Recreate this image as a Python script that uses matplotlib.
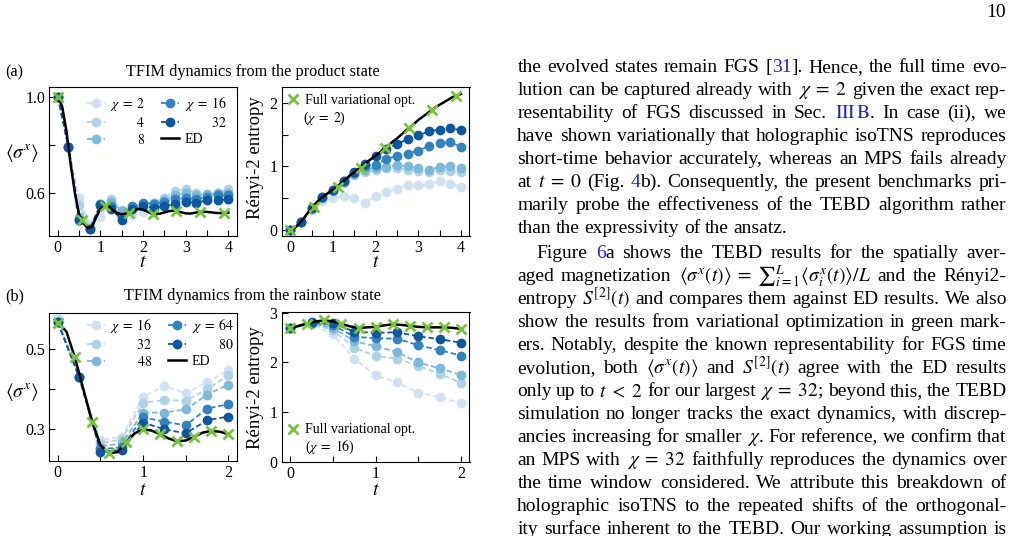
import matplotlib
matplotlib.use("Agg")
import matplotlib.pyplot as plt
import numpy as np

plt.rcParams["font.family"] = ["Liberation Serif", "DejaVu Serif"]
plt.rcParams["mathtext.fontset"] = "stix"

W, H = 1015, 536
GREEN = "#78c23c"
LINK = "#2020e0"

# ---------------- (a) TFIM from the product state ----------------
t_a = np.arange(0, 4.001, 0.25)
chi_a = [2, 4, 8, 16, 32]
sx_a_2 = [1.0, 0.79, 0.58, 0.47, 0.50, 0.57, 0.53, 0.51, 0.52, 0.53, 0.55, 0.56, 0.57, 0.575, 0.57, 0.57, 0.57]
sx_a_4 = [1.0, 0.79, 0.55, 0.46, 0.55, 0.575, 0.53, 0.535, 0.55, 0.56, 0.58, 0.61, 0.615, 0.60, 0.59, 0.60, 0.615]
sx_a_8 = [1.0, 0.79, 0.50, 0.45, 0.555, 0.565, 0.525, 0.54, 0.555, 0.56, 0.57, 0.59, 0.60, 0.59, 0.595, 0.60, 0.60]
sx_a_16 = [1.0, 0.79, 0.49, 0.45, 0.555, 0.545, 0.50, 0.545, 0.56, 0.555, 0.565, 0.575, 0.58, 0.575, 0.585, 0.59, 0.59]
sx_a_32 = [1.0, 0.79, 0.487, 0.45, 0.55, 0.535, 0.49, 0.535, 0.545, 0.54, 0.545, 0.555, 0.565, 0.56, 0.57, 0.57, 0.575]

s2_a_2 = [0, 0.12, 0.32, 0.46, 0.50, 0.53, 0.50, 0.43, 0.54, 0.60, 0.65, 0.71, 0.70, 0.72, 0.77, 0.73, 0.68]
s2_a_4 = [0, 0.12, 0.33, 0.50, 0.61, 0.74, 0.86, 0.91, 0.94, 0.97, 0.98, 0.95, 0.93, 0.92, 0.94, 0.93, 0.92]
s2_a_8 = [0, 0.12, 0.33, 0.51, 0.62, 0.75, 0.88, 0.95, 0.98, 0.99, 1.02, 1.00, 0.97, 0.95, 0.99, 1.00, 0.97]
s2_a_16 = [0, 0.12, 0.34, 0.52, 0.63, 0.77, 0.90, 1.01, 1.02, 1.12, 1.16, 1.20, 1.25, 1.32, 1.37, 1.38, 1.31]
s2_a_32 = [0, 0.12, 0.34, 0.52, 0.63, 0.77, 0.91, 1.04, 1.16, 1.27, 1.35, 1.43, 1.49, 1.55, 1.58, 1.60, 1.57]

t_ed_a = np.arange(0, 4.001, 0.1)
sx_ed_a = [1.0, 0.96, 0.86, 0.72, 0.60, 0.51, 0.475, 0.455, 0.46, 0.50, 0.535,
           0.548, 0.542, 0.528, 0.516, 0.512, 0.515, 0.522, 0.53, 0.534, 0.531,
           0.523, 0.515, 0.512, 0.515, 0.52, 0.525, 0.527, 0.525, 0.52, 0.516,
           0.515, 0.518, 0.521, 0.523, 0.522, 0.52, 0.518, 0.517, 0.518, 0.519]
s2_ed_a = [0, 0.03, 0.09, 0.17, 0.26, 0.34, 0.42, 0.49, 0.54, 0.59, 0.635,
           0.68, 0.74, 0.80, 0.86, 0.91, 0.96, 1.02, 1.07, 1.12, 1.17,
           1.22, 1.28, 1.33, 1.39, 1.44, 1.50, 1.56, 1.61, 1.67, 1.73,
           1.78, 1.83, 1.88, 1.93, 1.97, 2.01, 2.05, 2.09, 2.12, 2.14]

t_var_a = [0, 0.555, 1.11, 1.665, 2.22, 2.775, 3.33, 3.885]
sx_var_a = [1.0, 0.49, 0.547, 0.518, 0.514, 0.525, 0.52, 0.518]
s2_var_a = [0, 0.36, 0.67, 0.97, 1.29, 1.605, 1.895, 2.116]

# ---------------- (b) TFIM from the rainbow state ----------------
t_b = np.arange(0, 2.001, 0.25)
chi_b = [16, 32, 48, 64, 80]
sx_b_16 = [0.578, 0.431, 0.273, 0.282, 0.381, 0.409, 0.390, 0.419, 0.448]
sx_b_32 = [0.572, 0.431, 0.265, 0.275, 0.367, 0.373, 0.372, 0.400, 0.436]
sx_b_48 = [0.568, 0.431, 0.257, 0.265, 0.342, 0.342, 0.350, 0.387, 0.412]
sx_b_64 = [0.568, 0.431, 0.250, 0.255, 0.330, 0.319, 0.310, 0.352, 0.363]
sx_b_80 = [0.568, 0.431, 0.244, 0.248, 0.317, 0.300, 0.290, 0.323, 0.332]

s2_b_16 = [2.70, 2.77, 2.57, 2.08, 1.74, 1.60, 1.39, 1.30, 1.18]
s2_b_32 = [2.70, 2.78, 2.65, 2.30, 2.13, 2.08, 1.93, 1.77, 1.59]
s2_b_48 = [2.70, 2.79, 2.70, 2.43, 2.33, 2.21, 2.00, 1.88, 1.75]
s2_b_64 = [2.70, 2.80, 2.76, 2.52, 2.49, 2.48, 2.35, 2.25, 2.14]
s2_b_80 = [2.70, 2.81, 2.80, 2.62, 2.60, 2.61, 2.53, 2.47, 2.40]

t_ed_b = np.arange(0, 2.001, 0.1)
sx_ed_b = [0.567, 0.545, 0.48, 0.40, 0.32, 0.26, 0.24, 0.243, 0.2675, 0.29, 0.30,
           0.297, 0.2875, 0.277, 0.27, 0.272, 0.2815, 0.292, 0.296, 0.294, 0.2875]
s2_ed_b = [2.69, 2.74, 2.79, 2.83, 2.85, 2.83, 2.78, 2.73, 2.70, 2.71, 2.72,
           2.75, 2.77, 2.76, 2.74, 2.72, 2.71, 2.71, 2.71, 2.70, 2.68]

t_var_b = np.arange(0, 2.001, 0.2)
sx_var_b = [0.567, 0.4815, 0.319, 0.24, 0.2675, 0.30, 0.2875, 0.27, 0.2815, 0.296, 0.2875]
s2_var_b = [2.69, 2.785, 2.85, 2.78, 2.70, 2.71, 2.77, 2.74, 2.71, 2.71, 2.67]

# ---------------- body text of the page ----------------
# |...| marks a (blue) cross-reference
para1 = [
    "the evolved states remain FGS [|31|]. Hence, the full time evo-",
    r"lution can be captured already with $\chi\;=\;2$ given the exact rep-",
    r"resentability of FGS discussed in Sec. |$\mathrm{III}\,\mathrm{B}$|. In case (ii), we",
    "have shown variationally that holographic isoTNS reproduces",
    "short-time behavior accurately, whereas an MPS fails already",
    r"at $t\;=\;0$ (Fig. |4|b). Consequently, the present benchmarks pri-",
    "marily probe the effectiveness of the TEBD algorithm rather",
    "than the expressivity of the ansatz.",
]
para2 = [
    "Figure |6|a shows the TEBD results for the spatially aver-",
    r"aged magnetization $\langle\sigma^x(t)\rangle\;=\;∑_{i=1}^{L}\langle\sigma_i^x(t)\rangle/L$ and the Rényi2-",
    r"entropy $S^{[2]}(t)$ and compares them against ED results. We also",
    "show the results from variational optimization in green mark-",
    "ers. Notably, despite the known representability for FGS time",
    r"evolution, both $\langle\sigma^x(t)\rangle$ and $S^{[2]}(t)$ agree with the ED results",
    r"only up to $t\;<\;2$ for our largest $\chi\;=\;32$; beyond this, the TEBD",
    "simulation no longer tracks the exact dynamics, with discrep-",
    r"ancies increasing for smaller $\chi$. For reference, we confirm that",
    r"an MPS with $\chi\;=\;32$ faithfully reproduces the dynamics over",
    "the time window considered. We attribute this breakdown of",
    "holographic isoTNS to the repeated shifts of the orthogonal-",
    "ity surface inherent to the TEBD. Our working assumption is",
]

fig = plt.figure(figsize=(W / 100, H / 100), dpi=100)
r = fig.canvas.get_renderer()


def box(x0, y0, x1, y1):
    return [x0 / W, 1 - y1 / H, (x1 - x0) / W, (y1 - y0) / H]


def text_width(s, fs):
    tt = fig.text(0, 0, s, fontsize=fs)
    w = tt.get_window_extent(r).width
    tt.remove()
    return w


CHI_FMT = r"$\chi\;=\;%d$"


def chi_labels(chis, fs=10):
    # right-align the bare numbers under "chi = n" like the original legend
    unit = (text_width(r"$\hspace{10}1$", fs) - text_width(r"$1$", fs)) / 10
    labs = []
    for i, c in enumerate(chis):
        if i in (0, 3):
            labs.append(CHI_FMT % c)
        else:
            ref = CHI_FMT % chis[0 if i < 3 else 3]
            pad = (text_width(ref, fs) - text_width(r"$%d$" % c, fs)) / unit
            labs.append(r"$\hspace{%.2f}%d$" % (pad, c))
    return labs


blues = plt.cm.Blues([0.2, 0.32, 0.45, 0.68, 0.85])
DASH = (0, (3, 1.6))


def draw(ax, t, series, t_ed, ed, t_var, var):
    lines = []
    for y, c in zip(series, blues):
        ln, = ax.plot(t, y, ls=DASH, lw=1.3, color=c, marker="o", ms=6)
        lines.append(ln)
    ed_ln, = ax.plot(t_ed, ed, color="k", lw=1.8, zorder=3)
    var_ln, = ax.plot(t_var, var, ls="none", marker="x", ms=6.5, mew=2,
                      color=GREEN, zorder=4)
    ax.tick_params(direction="in", length=4, pad=3, labelsize=11.5,
                   top=False, right=False)
    return lines, ed_ln, var_ln


def ticks(ax, xt, xl, yt, yl):
    ax.set_xticks(xt)
    ax.set_xticklabels(xl)
    ax.set_yticks(yt)
    ax.set_yticklabels(yl)


def left_legend(ax, lines, ed_ln, chis, anchor):
    ax.legend(lines + [ed_ln], chi_labels(chis) + ["ED"], ncol=2,
              loc="upper left", bbox_to_anchor=anchor, frameon=False,
              fontsize=10, handlelength=1.3, handletextpad=0.4,
              columnspacing=1.1, labelspacing=0.2, borderpad=0,
              borderaxespad=0)


def var_legend(ax, var_ln, chi, anchor, second):
    ax.legend([var_ln], ["Full variational opt."], loc="upper left",
              bbox_to_anchor=anchor, frameon=False, fontsize=10,
              handlelength=0.8, handletextpad=0.5, borderpad=0,
              borderaxespad=0)
    ax.text(second[0], second[1], "(" + CHI_FMT % chi + ")",
            transform=ax.transAxes, fontsize=10, va="center")


# ---- row (a)
ax1 = fig.add_axes(box(49.3, 87, 237, 236))
ax2 = fig.add_axes(box(281.7, 87, 469.5, 236))
lines, ed_ln, var_ln = draw(ax1, t_a, [sx_a_2, sx_a_4, sx_a_8, sx_a_16, sx_a_32],
                            t_ed_a, sx_ed_a, t_var_a, sx_var_a)
ax1.set_xlim(-0.2, 4.2)
ax1.set_ylim(0.422, 1.04)
ticks(ax1, np.arange(0, 4.01, 0.5), ["0", "", "1", "", "2", "", "3", "", "4"],
      [0.6, 0.8, 1.0], ["0.6", "", "1.0"])
left_legend(ax1, lines, ed_ln, chi_a, (0.2, 0.945))

lines, ed_ln, var_ln = draw(ax2, t_a, [s2_a_2, s2_a_4, s2_a_8, s2_a_16, s2_a_32],
                            t_ed_a, s2_ed_a, t_var_a, s2_var_a)
ax2.set_xlim(-0.2, 4.2)
ax2.set_ylim(-0.095, 2.25)
ticks(ax2, np.arange(0, 4.01, 0.5), ["0", "", "1", "", "2", "", "3", "", "4"],
      [0, 0.5, 1, 1.5, 2], ["0", "", "1", "", "2"])
var_legend(ax2, var_ln, 2, (0.03, 0.955), (0.115, 0.79))

# ---- row (b)
ax3 = fig.add_axes(box(49.3, 312.7, 237, 461.3))
ax4 = fig.add_axes(box(281.7, 312, 469.5, 461.5))
lines, ed_ln, var_ln = draw(ax3, t_b, [sx_b_16, sx_b_32, sx_b_48, sx_b_64, sx_b_80],
                            t_ed_b, sx_ed_b, t_var_b, sx_var_b)
ax3.set_xlim(-0.1, 2.1)
ax3.set_ylim(0.22, 0.592)
ticks(ax3, np.arange(0, 2.01, 0.5), ["0", "", "1", "", "2"],
      [0.3, 0.4, 0.5], ["0.3", "", "0.5"])
left_legend(ax3, lines, ed_ln, chi_b, (0.2, 0.97))

lines, ed_ln, var_ln = draw(ax4, t_b, [s2_b_16, s2_b_32, s2_b_48, s2_b_64, s2_b_80],
                            t_ed_b, s2_ed_b, t_var_b, s2_var_b)
ax4.set_xlim(-0.1, 2.1)
ax4.set_ylim(0, 3.02)
ticks(ax4, np.arange(0, 2.01, 0.5), ["0", "", "1", "", "2"],
      [0, 1, 2, 3], ["0", "1", "2", "3"])
var_legend(ax4, var_ln, 16, (0.03, 0.255), (0.124, 0.093))

# axis labels
for ax, yc in ((ax1, 0.56), (ax3, 0.467)):
    ax.set_ylabel(r"$\langle\sigma^x\rangle$", rotation=0, fontsize=14,
                  ha="center", va="center")
    ax.yaxis.set_label_coords(-0.144, yc)
for ax, yc in ((ax2, 0.527), (ax4, 0.495)):
    ax.set_ylabel("Rényi-2 entropy", fontsize=13.5, ha="center", va="center")
    ax.yaxis.set_label_coords(-0.142, yc)
for ax, yc in ((ax1, -0.18), (ax2, -0.18), (ax3, -0.195), (ax4, -0.195)):
    ax.set_xlabel(r"$t$", fontsize=14, va="center")
    ax.xaxis.set_label_coords(0.5, yc)

# panel titles
fig.text(5 / W, 1 - 76 / H, "(a)", fontsize=11.7, va="baseline")
fig.text(253 / W, 1 - 76 / H, "TFIM dynamics from the product state",
         fontsize=11.7, va="baseline", ha="center")
fig.text(5 / W, 1 - 300 / H, "(b)", fontsize=11.7, va="baseline")
fig.text(253 / W, 1 - 300 / H, "TFIM dynamics from the rainbow state",
         fontsize=11.7, va="baseline", ha="center")

# ---- page text, justified word by word
BODY = 14
X0, X1 = 517.3, 1006.5


def put(x, y, s, color="k"):
    return fig.text(x / W, 1 - y / H, s, fontsize=BODY, color=color,
                    ha="left", va="baseline")


def split_words(line):
    # split on spaces that are not inside $...$
    words, cur, inmath = [], "", False
    for ch in line:
        if ch == "$":
            inmath = not inmath
        if ch == " " and not inmath:
            words.append(cur)
            cur = ""
        else:
            cur += ch
    words.append(cur)
    return words


def set_line(line, y, x0, justify):
    items = []
    total = 0
    for word in split_words(line):
        objs = []
        wd = 0
        for k, p in enumerate(word.split("|")):
            if p == "":
                continue
            tx = put(0, y, p, LINK if k % 2 else "k")
            w = tx.get_window_extent(r).width
            objs.append((tx, w))
            wd += w
        items.append((objs, wd))
        total += wd
    gap = (X1 - x0 - total) / (len(items) - 1) if justify else BODY * 100 / 72 * 0.25
    x = x0
    for objs, wd in items:
        xx = x
        for tx, w in objs:
            tx.set_x(xx / W)
            xx += w
        x += wd + gap


for i, line in enumerate(para1):
    set_line(line, 71.7 + 23 * i, X0, i < len(para1) - 1)
for i, line in enumerate(para2):
    set_line(line, 258.3 + 23 * i, X0 + 19.5 if i == 0 else X0, True)

fig.text(1006 / W, 1 - 17 / H, "10", fontsize=BODY, ha="right", va="baseline")

fig.savefig("out.png", dpi=100)
